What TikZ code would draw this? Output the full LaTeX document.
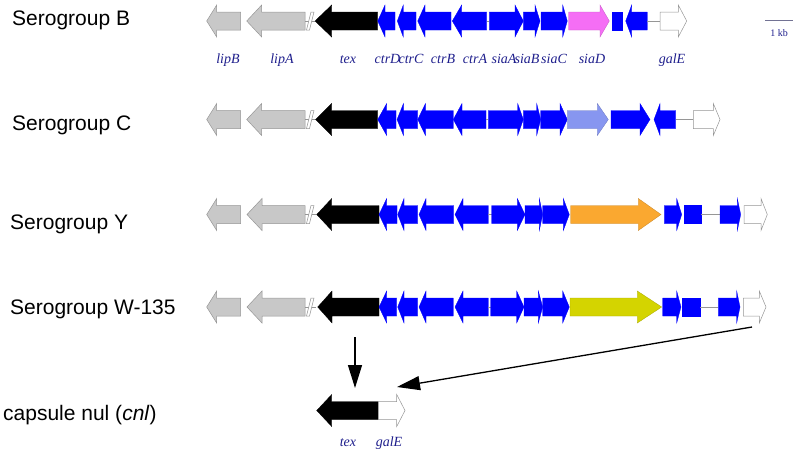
\documentclass[tikz,border=0pt]{standalone}
\usepackage{fontspec}
\setmainfont{Liberation Serif}
\newfontfamily\arialf{Liberation Sans}
\usetikzlibrary{arrows.meta}
\definecolor{gblue}{RGB}{0,0,255}
\definecolor{ggrey}{RGB}{200,200,200}
\definecolor{gedge}{RGB}{150,150,150}
\definecolor{gpink}{RGB}{245,110,245}
\definecolor{glblue}{RGB}{135,150,240}
\definecolor{gorange}{RGB}{250,168,48}
\definecolor{gyellow}{RGB}{212,212,0}
\definecolor{navy}{RGB}{30,30,140}
\tikzset{
  bluegene/.style={fill=gblue,draw=gblue,line width=0.3pt},
  greygene/.style={fill=ggrey,draw=gedge,line width=0.5pt},
  blackgene/.style={fill=black,draw=black,line width=0.3pt},
  whitegene/.style={fill=white,draw=gedge,line width=0.5pt},
  pinkgene/.style={fill=gpink,draw=gpink!80!black,line width=0.3pt},
  lbluegene/.style={fill=glblue,draw=glblue!80!black,line width=0.3pt},
  orangegene/.style={fill=gorange,draw=gorange!80!black,line width=0.3pt},
  yellowgene/.style={fill=gyellow,draw=gyellow!80!black,line width=0.3pt},
  linkline/.style={draw=gedge,line width=0.5pt},
  genelabel/.style={anchor=base,text=navy,font=\fontsize{14}{16}\selectfont\itshape,inner sep=0pt},
  rowlabel/.style={anchor=base west,font=\arialf\fontsize{21}{24}\selectfont,inner sep=0pt},
  bigarrow/.style={line width=1.3pt,-{Triangle[length=23pt,width=14pt]}}
}
% rightward gene: body left, head base, tip, y, style
\newcommand\geneR[5]{\filldraw[#5] (#1,#4-9) -- (#2,#4-9) -- (#2,#4-16) -- (#3,#4) -- (#2,#4+16) -- (#2,#4+9) -- (#1,#4+9) -- cycle;}
% leftward gene: tip, head base, body right, y, style
\newcommand\geneL[5]{\filldraw[#5] (#3,#4-9) -- (#2,#4-9) -- (#2,#4-16) -- (#1,#4) -- (#2,#4+16) -- (#2,#4+9) -- (#3,#4+9) -- cycle;}
\newcommand\genebox[4]{\filldraw[#4] (#1,#3-9) rectangle (#2,#3+9);}
\newcommand\genelink[3]{\draw[linkline] (#1,#3) -- (#2,#3);}
\newcommand\genebreak[1]{\draw[linkline] (305,#1) -- (316,#1);
  \filldraw[fill=white,draw=gedge,line width=0.5pt] (306.5,#1+9) -- (311,#1-9) -- (314,#1-9) -- (309.5,#1+9) -- cycle;}
\begin{document}
\begin{tikzpicture}[x=1pt,y=-1pt]
\useasboundingbox (0,0) rectangle (800,455);
% ---------- Serogroup B ----------
\node[rowlabel] (labB) at (12,25) {Serogroup B};
\geneL{206.7}{216.7}{240.7}{21}{greygene}
\geneL{246.7}{261.7}{305}{21}{greygene}
\genebreak{21}
\geneL{315}{331.7}{377.7}{21}{blackgene}
\geneL{377.7}{385}{395}{21}{bluegene}
\geneL{397.3}{403.3}{416}{21}{bluegene}
\geneL{417.7}{425}{451}{21}{bluegene}
\geneL{452.3}{461.7}{486.7}{21}{bluegene}
\genelink{486.7}{489.3}{21}
\geneR{489.3}{515}{523.3}{21}{bluegene}
\geneR{523.3}{535}{540}{21}{bluegene}
\geneR{541}{562.7}{567.3}{21}{bluegene}
\geneR{568.7}{600}{609.3}{21}{pinkgene}
\genebox{611.7}{621.7}{21}{bluegene}
\geneL{625.7}{631.7}{647.3}{21}{bluegene}
\genelink{647.3}{660}{21}
\geneR{660}{678.3}{686.7}{21}{whitegene}
\node[genelabel] (lipB) at (228,63.3) {lipB};
\node[genelabel] (lipA) at (282,63.3) {lipA};
\node[genelabel] (tex) at (348,63.3) {tex};
\node[genelabel] (ctrD) at (387.5,63.3) {ctrD};
\node[genelabel] (ctrC) at (411,63.3) {ctrC};
\node[genelabel] (ctrB) at (443,63.3) {ctrB};
\node[genelabel] (ctrA) at (475,63.3) {ctrA};
\node[genelabel] (siaA) at (504,63.3) {siaA};
\node[genelabel] (siaB) at (527,63.3) {siaB};
\node[genelabel] (siaC) at (554,63.3) {siaC};
\node[genelabel] (siaD) at (592,63.3) {siaD};
\node[genelabel] (galE) at (672,63.3) {galE};
\coordinate (sbL) at (765,20);
\coordinate (sbR) at (793,20);
\draw[draw=gedge!70!navy,line width=0.5pt] (sbL) -- (sbR);
\node[anchor=base,text=navy,font=\fontsize{10}{12}\selectfont,inner sep=0pt] (kb) at (779,36) {1 kb};
% ---------- Serogroup C ----------
\node[rowlabel] (labC) at (12,130) {Serogroup C};
\geneL{206.7}{216.7}{240.7}{119.5}{greygene}
\geneL{246.7}{261.7}{305}{119.5}{greygene}
\genebreak{119.5}
\geneL{315.7}{331.7}{377.7}{119.5}{blackgene}
\geneL{377.7}{386.7}{396}{119.5}{bluegene}
\geneL{397}{403.5}{417.7}{119.5}{bluegene}
\geneL{417.7}{425.5}{453.3}{119.5}{bluegene}
\geneL{453.3}{462}{486}{119.5}{bluegene}
\genelink{486}{488.3}{119.5}
\geneR{488.3}{517.7}{523.3}{119.5}{bluegene}
\geneR{523.3}{536.7}{540.7}{119.5}{bluegene}
\geneR{540.7}{560}{567.3}{119.5}{bluegene}
\geneR{567.3}{597.3}{608.3}{119.5}{lbluegene}
\geneR{611}{640}{650}{119.5}{bluegene}
\geneL{654}{660}{675.7}{119.5}{bluegene}
\genelink{675.7}{693.3}{119.5}
\geneR{693.3}{713.3}{720}{119.5}{whitegene}
% ---------- Serogroup Y ----------
\node[rowlabel] (labY) at (10,229) {Serogroup Y};
\geneL{206.7}{216.7}{240.7}{214.5}{greygene}
\geneL{247}{262}{305}{214.5}{greygene}
\genebreak{214.5}
\geneL{316.7}{331.7}{379}{214.5}{blackgene}
\geneL{379}{386.7}{397}{214.5}{bluegene}
\geneL{397.7}{404}{417.7}{214.5}{bluegene}
\geneL{419}{426}{453.7}{214.5}{bluegene}
\geneL{455}{463}{488.3}{214.5}{bluegene}
\genelink{488.3}{491.7}{214.5}
\geneR{491.7}{517.3}{525}{214.5}{bluegene}
\geneR{525}{539.3}{542.7}{214.5}{bluegene}
\geneR{542.7}{563.3}{569.3}{214.5}{bluegene}
\geneR{570.7}{638.3}{661}{214.5}{orangegene}
\geneR{664.3}{676.7}{681.7}{214.5}{bluegene}
\genebox{684}{701}{214.5}{bluegene}
\genelink{701}{720}{214.5}
\geneR{720}{737.3}{740.7}{214.5}{bluegene}
\geneR{744}{761}{767.3}{214.5}{whitegene}
% ---------- Serogroup W-135 ----------
\node[rowlabel] (labW) at (10,314) {Serogroup W-135};
\geneL{206.7}{216.7}{240.7}{307}{greygene}
\geneL{247}{262}{305}{307}{greygene}
\genebreak{307}
\geneL{317.7}{332}{379}{307}{blackgene}
\geneL{379}{386.7}{396.7}{307}{bluegene}
\geneL{397.7}{404}{417.7}{307}{bluegene}
\geneL{419}{426}{453.3}{307}{bluegene}
\geneL{455}{463}{488.3}{307}{bluegene}
\genelink{488.3}{490.7}{307}
\geneR{490.7}{516.7}{524}{307}{bluegene}
\geneR{524}{538.3}{542.7}{307}{bluegene}
\geneR{542.7}{562.7}{569.3}{307}{bluegene}
\geneR{570}{637.3}{661.7}{307}{yellowgene}
\geneR{662.7}{676.7}{681}{307}{bluegene}
\genebox{682.3}{700}{307}{bluegene}
\genelink{700}{718.3}{307}
\geneR{718.3}{736.7}{740}{307}{bluegene}
\geneR{743.3}{759.3}{766}{307}{whitegene}
% ---------- capsule null ----------
\node[rowlabel] (labN) at (3,420) {capsule nul (\textit{cnl})};
\geneL{316.7}{331.7}{378.3}{410.5}{blackgene}
\geneR{378.3}{396.7}{405}{410.5}{whitegene}
\node[genelabel] (texN) at (348,446) {tex};
\node[genelabel] (galEN) at (389,446) {galE};
% ---------- derivation arrows ----------
\coordinate (texW) at (355,337);
\coordinate (texN top) at (355,388);
\coordinate (galEW) at (752,327);
\coordinate (galEN top) at (397,387);
\draw[bigarrow] (texW) -- (texN top);
\draw[bigarrow] (galEW) -- (galEN top);
\end{tikzpicture}
\end{document}
